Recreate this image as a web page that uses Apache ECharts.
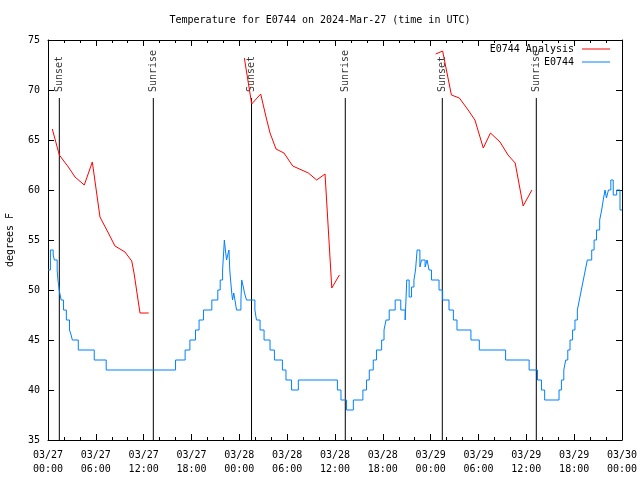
<!DOCTYPE html>
<html><head><meta charset="utf-8">
<script src="https://cdn.jsdelivr.net/npm/echarts@6/dist/echarts.min.js"></script>
<style>html,body{margin:0;padding:0;background:#fff}#c{width:640px;height:480px}</style>
</head><body><div id="c"></div>
<script>
const titleText = 'Temperature for E0744 on 2024-Mar-27 (time in UTC)';
const yAxisName = 'degrees F';
const seriesNames = ['E0744 Analysis', 'E0744'];
const startDay = 27;

// Analysis (red), three segments; hours since 03/27 00:00 UTC
const analysisHours1 = [0.54, 1.42, 2.55, 3.39, 4.55, 5.56, 6.52, 7.57, 8.4, 9.03, 9.66, 10.5, 10.79, 11.54, 12.63];
const analysisTemps1 = [66.1, 63.5, 62.3, 61.3, 60.5, 62.8, 57.3, 55.7, 54.4, 54.1, 53.8, 52.9, 51.7, 47.7, 47.7];
const analysisHours2 = [24.63, 25.55, 26.68, 27.35, 27.85, 28.6, 29.6, 30.7, 32.66, 33.7, 34.75, 35.6, 36.55];
const analysisTemps2 = [73.2, 68.6, 69.6, 67.3, 65.7, 64.1, 63.7, 62.4, 61.7, 61.0, 61.6, 50.2, 51.5];
const analysisHours3 = [48.63, 49.5, 50.6, 51.6, 52.7, 53.55, 54.6, 55.5, 56.7, 57.7, 58.6, 59.6, 60.7];
const analysisTemps3 = [73.6, 73.9, 69.5, 69.2, 68.0, 67.0, 64.2, 65.7, 64.8, 63.5, 62.7, 58.4, 60.0];

// Observations (blue)
const obsHours = [0, 0.3, 0.65, 0.8, 1.15, 1.25, 1.4, 1.65, 1.95, 2.3, 2.7, 2.9, 3.05, 3.8, 5.8, 7.3, 16.0, 17.2, 17.8, 18.5, 18.95, 19.5, 20.55, 21.3, 21.6, 21.9, 22.05, 22.12, 22.25, 22.4, 22.6, 22.7, 22.8, 22.9, 23.05, 23.15, 23.3, 23.45, 23.65, 24.2, 24.3, 24.5, 24.65, 24.9, 25.95, 26.15, 26.6, 27.1, 27.85, 28.4, 29.4, 29.85, 30.55, 31.4, 36.3, 36.75, 37.45, 38.3, 39.5, 39.95, 40.3, 40.8, 41.2, 41.85, 42.15, 42.4, 42.8, 43.55, 44.25, 44.8, 45.0, 45.3, 45.6, 45.9, 46.1, 46.3, 46.65, 46.85, 47.3, 47.55, 47.8, 48.1, 49.05, 49.5, 50.3, 50.85, 51.3, 53.05, 54.1, 57.4, 60.35, 61.4, 61.9, 62.3, 64.1, 64.4, 64.7, 64.94, 65.2, 65.48, 65.8, 66.1, 66.4, 66.65, 66.9, 67.15, 67.4, 67.65, 68.2, 68.5, 68.8, 69.2, 69.45, 69.65, 69.87, 70.05, 70.3, 70.6, 70.9, 71.33, 71.75, 72];
const obsTemps = [52, 54, 53.5, 53, 52, 51, 50, 49, 48, 47, 46, 45.5, 45, 44, 43, 42, 43, 44, 45, 46, 47, 48, 49, 50, 51, 52, 54, 55, 54, 53, 53.7, 54, 52, 51, 49.7, 49, 49.7, 49, 48, 49, 51, 50.3, 49.7, 49, 48, 47, 46, 45, 44, 43, 42, 41, 40, 41, 40, 39, 38, 39, 40, 41, 42, 43, 44, 45, 46, 47, 48, 49, 48, 47, 51, 49.3, 50.3, 51, 52, 54, 52.3, 53, 52.3, 53, 52, 51, 50, 49, 48, 47, 46, 45, 44, 43, 42, 41, 40, 39, 40, 41, 42, 43, 44, 45, 46, 47, 48, 49, 50, 51, 52, 53, 54, 55, 56, 57, 58, 59, 60, 59.2, 60, 61, 59.5, 60, 58, 58];

// Sunset / sunrise events
const eventHours = [1.42, 13.21, 25.53, 37.29, 49.46, 61.25];
const eventNames = ['Sunset', 'Sunrise', 'Sunset', 'Sunrise', 'Sunset', 'Sunrise'];
const eventLineTop = 69.2;
const eventLabelBase = 69.8;

const yMin = 35, yMax = 75, yStep = 5;
const xMin = 0, xMax = 72, xStep = 6;

const FONT = 'DejaVu Sans Mono';
const zip = (a, b) => a.map((v, i) => [v, b[i]]);
const analysisData = [].concat(
  zip(analysisHours1, analysisTemps1), [[13, '-']],
  zip(analysisHours2, analysisTemps2), [[37, '-']],
  zip(analysisHours3, analysisTemps3));
const obsData = zip(obsHours, obsTemps);
const eventLineData = [];
eventHours.forEach(h => { eventLineData.push([h, yMin], [h, eventLineTop], [h, '-']); });
const eventLabelData = eventHours.map((h, i) => ({ value: [h, eventLabelBase], name: eventNames[i] }));

const pad = n => (n < 10 ? '0' : '') + n;
const xFmt = v => {
  const d = startDay + Math.floor(v / 24);
  const hh = Math.round(v % 24);
  return '03/' + pad(d) + '\n' + pad(hh) + ':00';
};

const axisCommon = {
  axisLine: { show: true, onZero: false, lineStyle: { color: '#000', width: 1 } },
  splitLine: { show: false }
};

const chart = echarts.init(document.getElementById('c'));
chart.setOption({
  animation: false,
  backgroundColor: '#fff',
  textStyle: { fontFamily: FONT },
  title: {
    text: titleText, left: 'center', top: 10,
    textStyle: { fontFamily: FONT, fontSize: 10, fontWeight: 'normal', color: '#000' }
  },
  legend: {
    data: seriesNames, orient: 'vertical', align: 'right',
    right: 25, top: 39, itemWidth: 28, itemHeight: 10, itemGap: 3,
    textStyle: { fontFamily: FONT, fontSize: 10, color: '#000', padding: [0, 3, 0, 0] },
    icon: 'path://M0,4.5L28,4.5L28,5.5L0,5.5Z'
  },
  grid: { left: 48, right: 18, top: 40, bottom: 40, containLabel: false, outerBoundsMode: 'none' },
  xAxis: [
    Object.assign({}, axisCommon, {
      type: 'value', min: xMin, max: xMax, interval: xStep, position: 'bottom',
      axisTick: { show: true, inside: true, length: 6, lineStyle: { color: '#000' } },
      minorTick: { show: true, splitNumber: 3, length: 3, lineStyle: { color: '#000' } },
      axisLabel: { formatter: xFmt, fontFamily: FONT, fontSize: 10, color: '#000', margin: 8, lineHeight: 14 }
    }),
    Object.assign({}, axisCommon, {
      type: 'value', min: xMin, max: xMax, interval: xStep, position: 'top',
      axisTick: { show: true, inside: true, length: 6, lineStyle: { color: '#000' } },
      minorTick: { show: true, splitNumber: 3, length: 3, lineStyle: { color: '#000' } },
      axisLabel: { show: false }
    })
  ],
  yAxis: [
    Object.assign({}, axisCommon, {
      type: 'value', min: yMin, max: yMax, interval: yStep, position: 'left',
      name: yAxisName, nameLocation: 'middle', nameGap: 33, nameRotate: 90,
      nameTextStyle: { fontFamily: FONT, fontSize: 10, color: '#000' },
      axisTick: { show: true, inside: true, length: 6, lineStyle: { color: '#000' } },
      axisLabel: { fontFamily: FONT, fontSize: 10, color: '#000', margin: 8 }
    }),
    Object.assign({}, axisCommon, {
      type: 'value', min: yMin, max: yMax, interval: yStep, position: 'right',
      axisTick: { show: true, inside: true, length: 6, lineStyle: { color: '#000' } },
      axisLabel: { show: false }
    })
  ],
  series: [
    {
      name: 'events', type: 'line', data: eventLineData, symbol: 'none',
      connectNulls: false, lineStyle: { color: '#000', width: 1 }, silent: true, z: 1
    },
    {
      name: 'eventLabels', type: 'scatter', data: eventLabelData, symbolSize: 0, silent: true,
      label: {
        show: true, formatter: '{b}', position: [0, 0], rotate: 90,
        align: 'left', verticalAlign: 'middle',
        fontFamily: FONT, fontSize: 10, color: '#000'
      }, z: 1
    },
    {
      name: seriesNames[0], type: 'line', data: analysisData, symbol: 'none', showSymbol: false,
      connectNulls: false, color: '#ff0000', lineStyle: { color: '#ff0000', width: 1 }, z: 3
    },
    {
      name: seriesNames[1], type: 'line', data: obsData, symbol: 'none', showSymbol: false,
      step: 'end', color: '#0080ff', lineStyle: { color: '#0080ff', width: 1 }, z: 2
    }
  ]
});
</script>
</body></html>
